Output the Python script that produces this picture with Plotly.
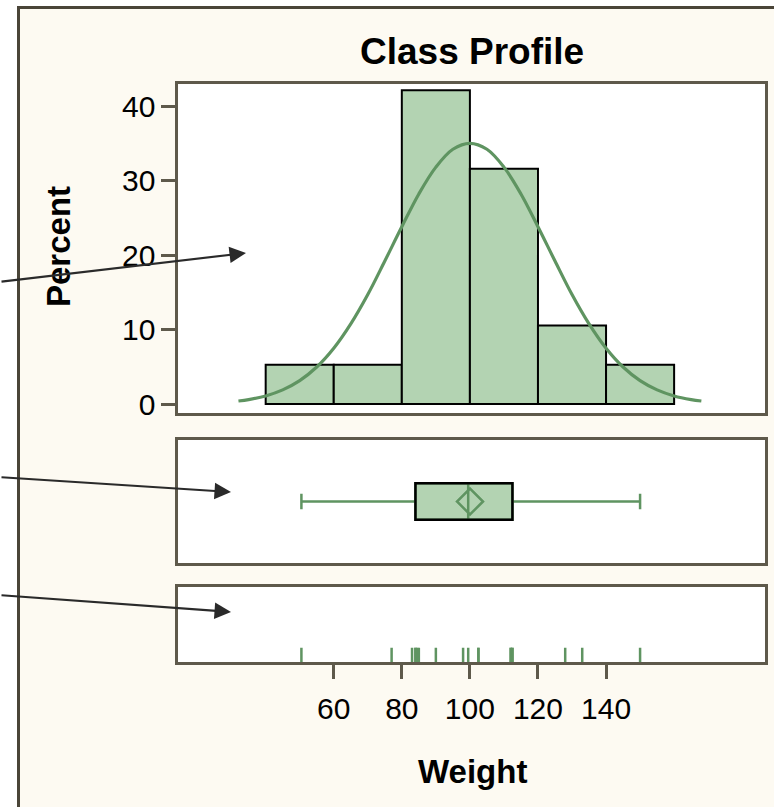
import plotly.graph_objects as go

# ---------------- data ----------------
bin_left = [40, 60, 80, 100, 120, 140]
bin_width = 20
percent = [5.26, 5.26, 42.11, 31.58, 10.53, 5.26]

curve_x = [32, 35, 40, 45, 50, 55, 60, 65, 70, 75, 80, 85, 90, 95, 100,
           105, 110, 115, 120, 125, 130, 135, 140, 145, 150, 155, 160, 165, 168]
curve_y = [0.41, 0.60, 1.09, 1.90, 3.14, 4.97, 7.49, 10.76, 14.7, 19.2, 23.8, 28.2, 31.8, 34.2, 35.0,
           34.2, 31.8, 28.2, 23.8, 19.2, 14.7, 10.76, 7.49, 4.97, 3.14, 1.90, 1.09, 0.60, 0.41]

box_min = [50.5]
box_q1 = [84]
box_median = [99.5]
box_q3 = [112.5]
box_max = [150]
box_mean = [100.03]

weights = [50.5, 77, 83, 84, 84, 84.5, 85, 90, 98, 99.5, 102.5, 102.5,
           112, 112, 112.5, 112.5, 128, 133, 150]

x_ticks = [60, 80, 100, 120, 140]
y_ticks = [0, 10, 20, 30, 40]

# ---------------- style ----------------
W, H = 774, 807
HEFF = 800.0
CREAM = "#FDFAF2"
FRAME = "#5E594B"
OUTER = "#4A4538"
FILL = "#B3D3B2"
GREEN = "#5F9461"
FONT = "Liberation Sans, Arial, sans-serif"

def px_x(p):
    return p / W

def px_y(p):
    return 1 - p / HEFF

def dy(p):
    return p * HEFF / H

x_range = [14.3, 186.7]
xdom = [px_x(178.2), px_x(765)]

fig = go.Figure()

# histogram
fig.add_trace(go.Bar(
    x=bin_left, y=percent, width=bin_width, offset=0,
    marker=dict(color=FILL, line=dict(color="black", width=2)),
    xaxis="x", yaxis="y", showlegend=False, hoverinfo="skip"))
# normal curve
fig.add_trace(go.Scatter(
    x=curve_x, y=curve_y, mode="lines", line=dict(color=GREEN, width=3.2, shape="spline"),
    xaxis="x", yaxis="y", showlegend=False, hoverinfo="skip"))

# box plot
box_w = 0.59
fig.add_trace(go.Box(
    orientation="h", y=[0], q1=box_q1, median=box_median, q3=box_q3,
    lowerfence=box_min, upperfence=box_max, width=box_w, whiskerwidth=0.43,
    fillcolor=FILL, line=dict(color=GREEN, width=2.5), boxpoints=False,
    xaxis="x2", yaxis="y2", showlegend=False, hoverinfo="skip"))
fig.add_trace(go.Scatter(
    x=box_mean, y=[0], mode="markers",
    marker=dict(symbol="diamond-open", size=20, color=GREEN, line=dict(color=GREEN, width=2.5)),
    xaxis="x2", yaxis="y2", showlegend=False, hoverinfo="skip"))
fig.add_shape(type="rect", xref="x2", yref="y2", x0=box_q1[0], x1=box_q3[0],
              y0=-box_w / 2, y1=box_w / 2, line=dict(color="black", width=2.5), layer="above")

# rug
rx, ry = [], []
for w in weights:
    rx += [w, w, None]
    ry += [0, 0.19, None]
fig.add_trace(go.Scatter(
    x=rx, y=ry, mode="lines", line=dict(color=GREEN, width=2.5),
    xaxis="x3", yaxis="y3", showlegend=False, hoverinfo="skip"))

frame = dict(showline=True, mirror=True, linecolor=FRAME, linewidth=2.5,
             showgrid=False, zeroline=False)

fig.update_layout(
    width=W, height=H,
    margin=dict(l=0, r=0, t=0, b=0),
    paper_bgcolor=CREAM, plot_bgcolor="white",
    font=dict(family=FONT, color="black"),
    xaxis=dict(domain=xdom, range=x_range, showticklabels=False, ticks="", anchor="y", **frame),
    yaxis=dict(domain=[px_y(413), px_y(84.2)], range=[-1.2, 42.93], tickvals=y_ticks,
               ticks="outside", ticklen=14, tickwidth=2.5, tickcolor=FRAME,
               tickfont=dict(size=30, color="black"), anchor="x", **frame),
    xaxis2=dict(domain=xdom, range=x_range, showticklabels=False, ticks="", anchor="y2", **frame),
    yaxis2=dict(domain=[px_y(563), px_y(440)], range=[-1, 1], showticklabels=False, ticks="",
                anchor="x2", **frame),
    xaxis3=dict(domain=xdom, range=x_range, tickvals=x_ticks, ticks="outside", ticklen=14,
                tickwidth=2.5, tickcolor=FRAME, tickfont=dict(size=30, color="black"),
                ticklabelstandoff=4, anchor="y3", **frame),
    yaxis3=dict(domain=[px_y(662), px_y(587)], range=[0, 1], showticklabels=False, ticks="",
                anchor="x3", **frame),
)

# outer frame: white outside strip + border lines
fig.add_shape(type="rect", xref="paper", yref="paper", x0=-0.05, x1=px_x(17), y0=-0.05, y1=1.05,
              fillcolor="white", line=dict(width=0), layer="above")
fig.add_shape(type="rect", xref="paper", yref="paper", x0=-0.05, x1=1.05, y0=px_y(6), y1=1.05,
              fillcolor="white", line=dict(width=0), layer="above")
fig.add_shape(type="line", xref="paper", yref="paper", x0=px_x(18.5), x1=px_x(18.5), y0=-0.05,
              y1=px_y(6), line=dict(color=OUTER, width=3), layer="above")
fig.add_shape(type="line", xref="paper", yref="paper", x0=px_x(17), x1=1.05, y0=px_y(7.5),
              y1=px_y(7.5), line=dict(color=OUTER, width=3), layer="above")

# texts
fig.add_annotation(text="<b>Class Profile</b>", xref="paper", yref="paper",
                   x=px_x(472), y=px_y(52), xanchor="center", yanchor="middle",
                   showarrow=False, font=dict(size=37, family=FONT, color="black"))
fig.add_annotation(text="<b>Percent</b>", xref="paper", yref="paper",
                   x=px_x(58), y=px_y(247), xanchor="center", yanchor="middle", textangle=-90,
                   showarrow=False, font=dict(size=33, family=FONT, color="black"))
fig.add_annotation(text="<b>Weight</b>", xref="paper", yref="paper",
                   x=px_x(472), y=px_y(771), xanchor="center", yanchor="middle",
                   showarrow=False, font=dict(size=33, family=FONT, color="black"))

# arrows (tip position, tail offset in pixels)
for tip_x, tip_y, tail_x, tail_y in [(246, 253, 0, 282), (231, 492, 0, 477), (231, 612, 0, 595)]:
    fig.add_annotation(text="", xref="paper", yref="paper", x=px_x(tip_x), y=px_y(tip_y),
                       ax=tail_x - tip_x, ay=dy(tail_y - tip_y), showarrow=True,
                       arrowhead=2, arrowsize=1.5, arrowwidth=2.2, arrowcolor="#2A2A2A")

fig.write_html("out.html", config={"displayModeBar": False})
